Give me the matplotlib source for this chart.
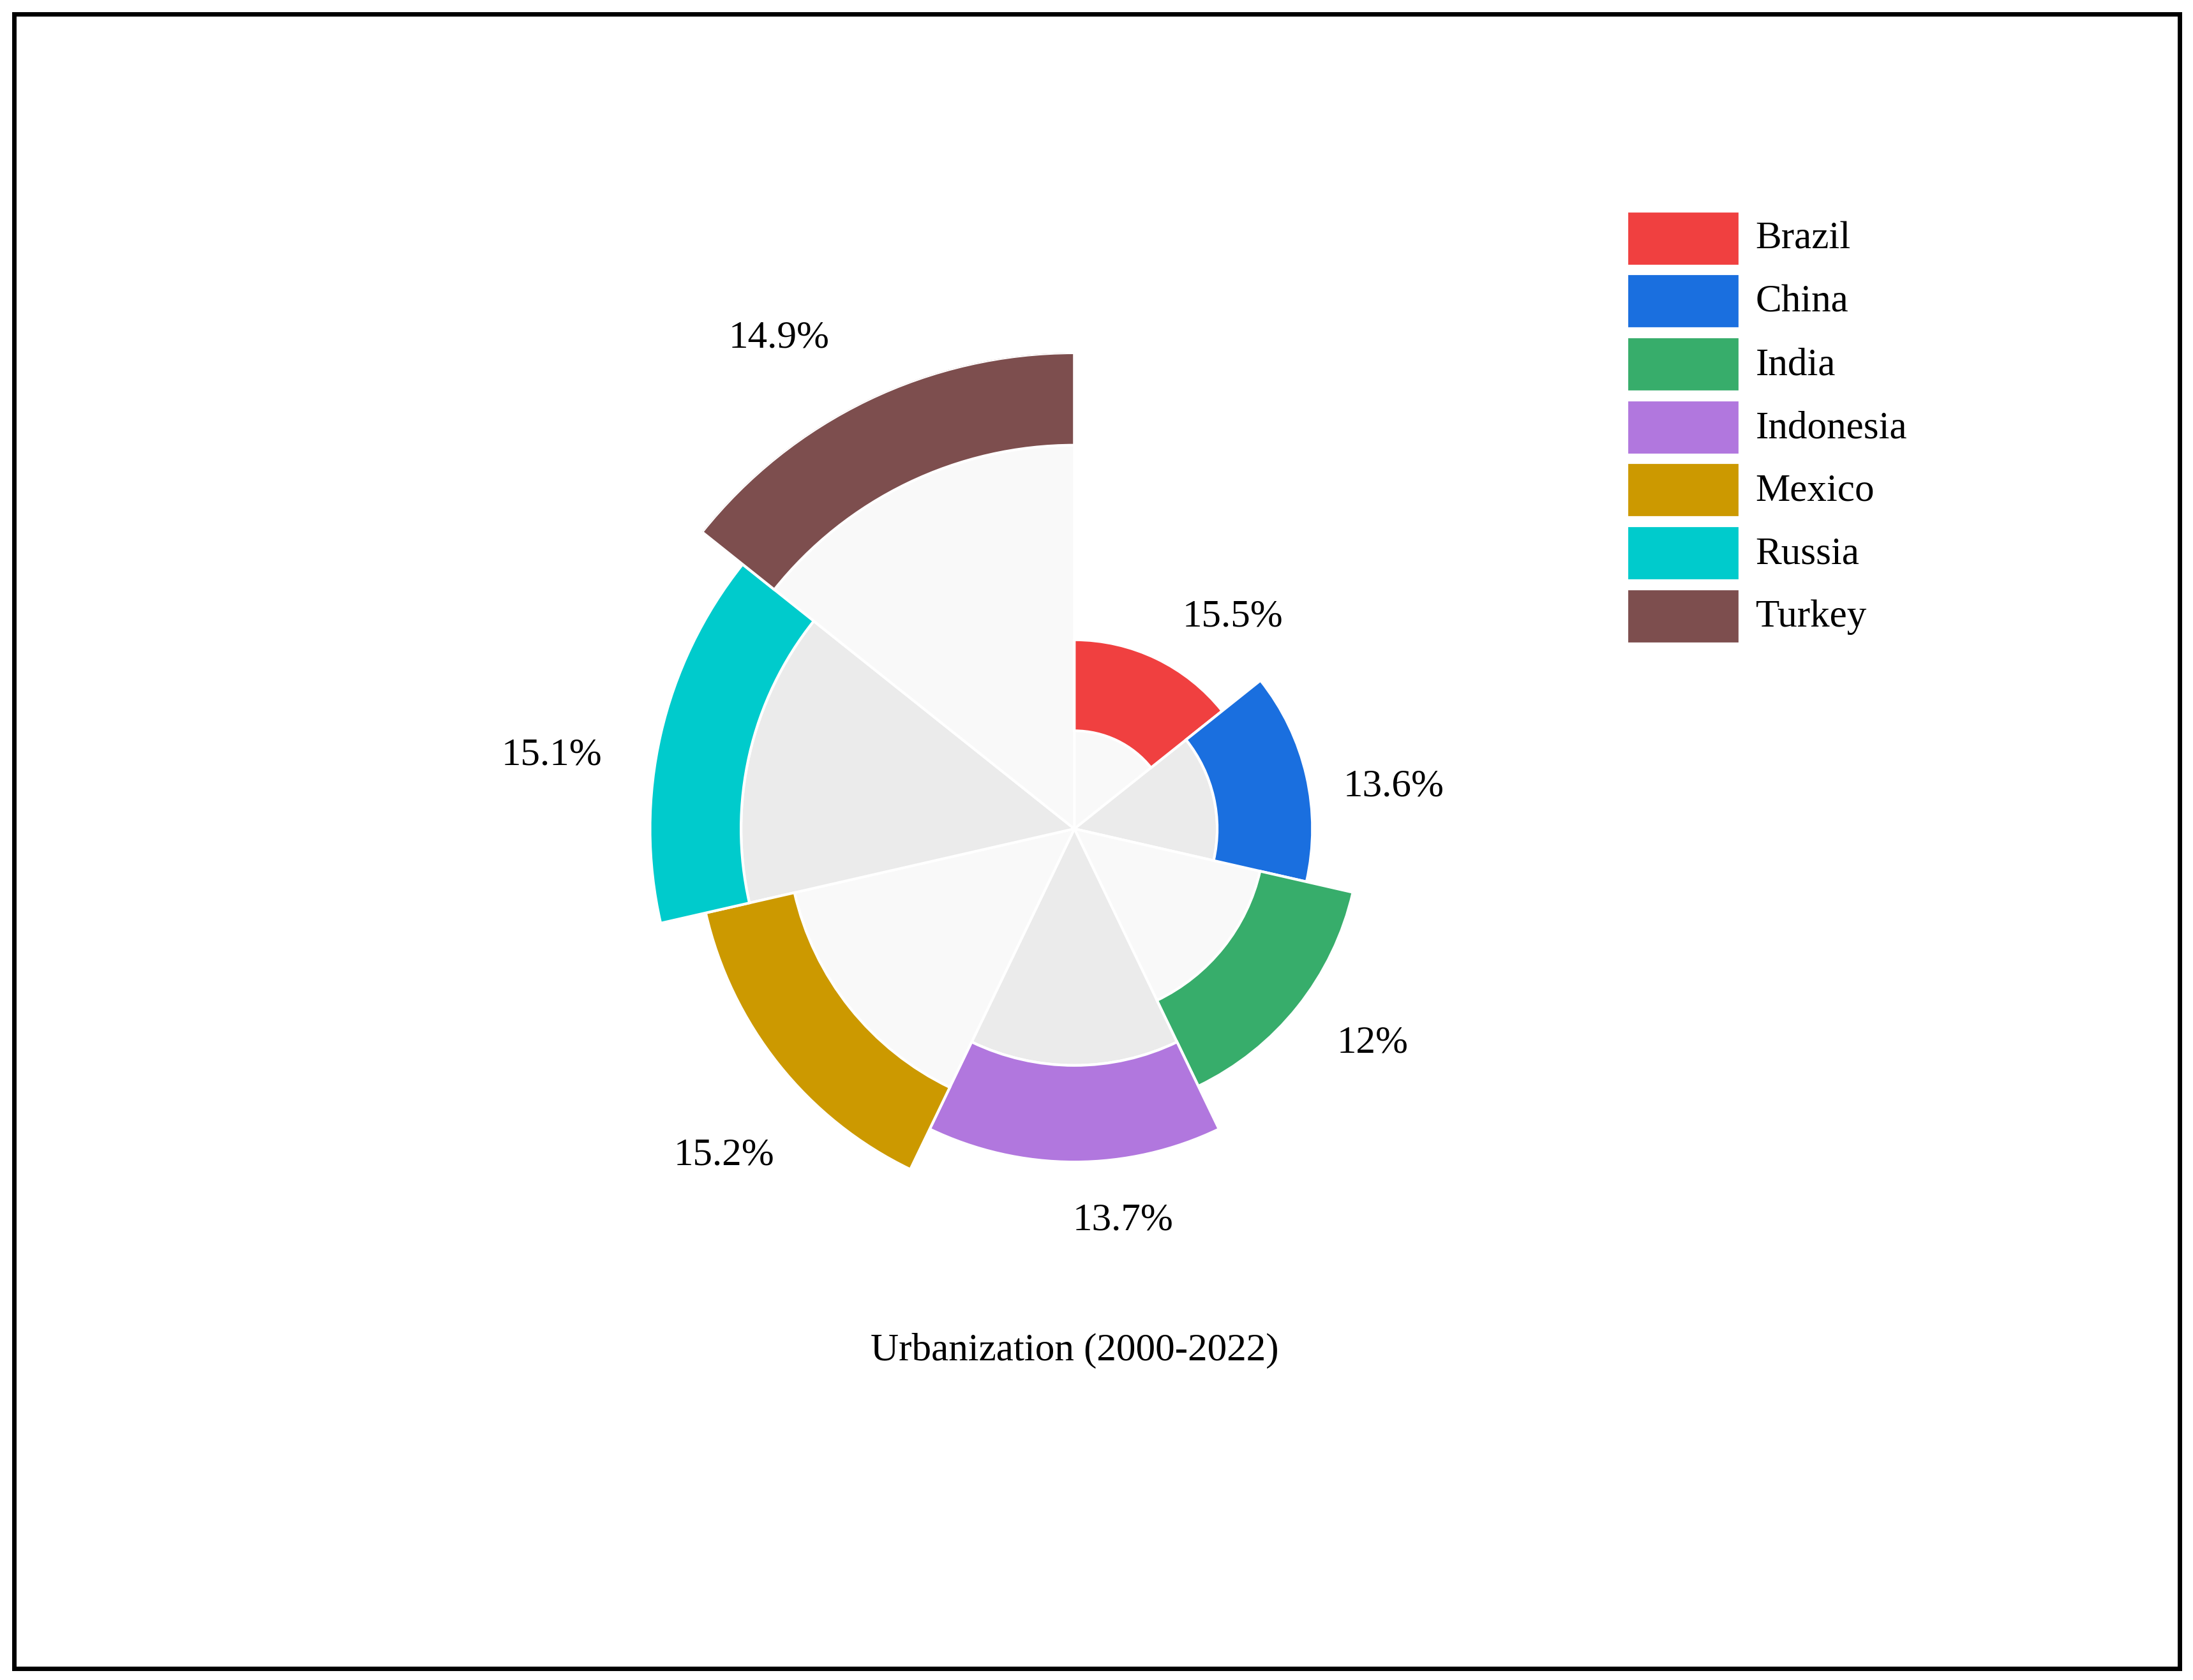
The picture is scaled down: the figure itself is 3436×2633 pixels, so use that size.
import matplotlib
matplotlib.use("Agg")
import matplotlib.pyplot as plt
import numpy as np
from matplotlib.patches import Rectangle

countries = ["Brazil", "China", "India", "Indonesia", "Mexico", "Russia", "Turkey"]
labels = ["15.5%", "13.6%", "12%", "13.7%", "15.2%", "15.1%", "14.9%"]
inner = [70, 102, 136, 169, 205, 238, 274]
band = [65, 68, 68, 69, 65, 65, 66]
colors = ["#F04040", "#1A6FDF", "#37AD6B", "#B177DE", "#CC9900", "#00CBCC", "#7D4E4E"]
greys = ["#F9F9F9", "#EBEBEB"]
label_ang = [36.8, 82.5, 125.7, 172.9, 227.0, 278.0, 329.0]
label_r = [189, 230, 262, 282, 342, 377, 409]

W, H = 1562, 1200
fig = plt.figure(figsize=(17.185, 13.165), dpi=200)
plt.rcParams['font.family'] = ['Liberation Serif']
fig.patches.append(Rectangle((10/W, 1-1192/H), 1542/W, 1182/H, transform=fig.transFigure,
                             fill=False, edgecolor='black', linewidth=2.5))

R = 340
cx, cy = 765, 592
ax = fig.add_axes([(cx-R)/W, 1-(cy+R)/H, 2*R/W, 2*R/H], projection='polar')
ax.set_theta_zero_location('N')
ax.set_theta_direction(-1)
ax.set_ylim(0, R)
ax.axis('off')
n = len(countries)
w = 2*np.pi/n
theta = np.arange(n)*w + w/2
ax.bar(theta, inner, width=w, bottom=0, color=[greys[i % 2] for i in range(n)],
       edgecolor='white', linewidth=1.5)
ax.bar(theta, band, width=w, bottom=inner, color=colors, edgecolor='white', linewidth=1.5)
for a, r, t in zip(label_ang, label_r, labels):
    ax.text(np.deg2rad(a), r, t, ha='center', va='center', fontsize=22, clip_on=False)

fig.text(cx/W, 1-965/H, "Urbanization (2000-2022)", ha='center', va='center', fontsize=22)

for i, (c, col) in enumerate(zip(countries, colors)):
    y = 152 + i*45
    fig.patches.append(Rectangle((1160/W, 1-(y+36)/H), 77/W, 36/H, transform=fig.transFigure,
                                 color=col))
    fig.text(1250/W, 1-(y+19)/H, c, ha='left', va='center', fontsize=22)

fig.savefig("out.png", dpi=200)
